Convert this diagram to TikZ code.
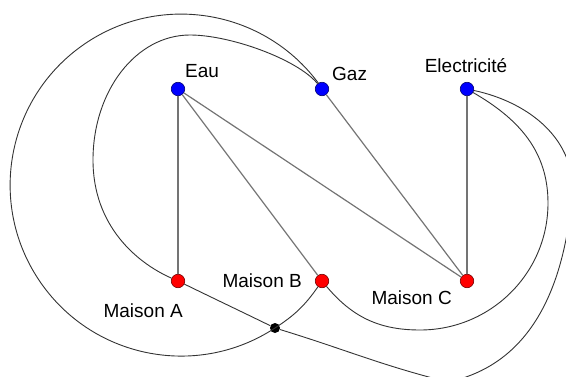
\documentclass[tikz,border=0pt]{standalone}
\usepackage{fontspec}
\setmainfont{Liberation Sans}
\usetikzlibrary{calc}
\definecolor{villebleu}{HTML}{0000FF}
\definecolor{maisonrouge}{HTML}{FF0000}
\definecolor{traitgris}{HTML}{747474}
\definecolor{courbegris}{HTML}{333333}

\begin{document}
\begin{tikzpicture}[x=1pt, y=1pt,
  ville/.style={circle, draw=blue!45!black, line width=0.6pt, fill=villebleu, minimum size=13.5pt, inner sep=0pt},
  maison/.style={circle, draw=red!45!black, line width=0.6pt, fill=maisonrouge, minimum size=13.5pt, inner sep=0pt},
  croisement/.style={circle, fill=black, minimum size=10pt, inner sep=0pt},
  etiq/.style={font=\fontsize{19}{22}\selectfont, inner sep=0pt},
  trait/.style={traitgris, line width=1.2pt},
  courbe/.style={courbegris, line width=0.9pt}
]
\useasboundingbox (0,0) rectangle (566,376);

\node[ville] (eau) at (178,287) {};
\node[ville] (gaz) at (322,287) {};
\node[ville] (elec) at (467,287) {};
\node[maison] (maisonA) at (178,95) {};
\node[maison] (maisonB) at (322,95) {};
\node[maison] (maisonC) at (467,95) {};
\node[croisement] (croix) at (275,48) {};

\node[etiq, anchor=base west] (tEau) at ($(eau)+(7,12)$) {Eau};
\node[etiq, anchor=base west] (tGaz) at ($(gaz)+(10,8)$) {Gaz};
\node[etiq, anchor=base] (tElec) at ($(elec)+(-1,17)$) {Electricité};
\node[etiq, anchor=base east] (tMaisonA) at ($(maisonA)+(5,-36)$) {Maison A};
\node[etiq, anchor=base east] (tMaisonB) at ($(maisonB)+(-20,-6)$) {Maison B};
\node[etiq, anchor=base east] (tMaisonC) at ($(maisonC)+(-15,-23)$) {Maison C};

\draw[trait] (eau) -- (maisonA);
\draw[trait] (eau) -- (maisonB);
\draw[trait] (eau) -- (maisonC);
\draw[trait] (gaz) -- (maisonC);
\draw[trait] (elec) -- (maisonC);

\draw[courbe] (gaz) .. controls (297,317) and (230,341) .. (190,341)
  .. controls (136,341) and (93,285) .. (93,216)
  .. controls (93,150) and (137,113) .. (maisonA);
\draw[courbe] (maisonB) to[out=235,in=33] (croix.center) arc[start angle=-56.7, end angle=-323.6, radius=171];
\draw[courbe] (maisonA) to[out=-26,in=154] (croix) to[out=-17,in=166] (448,-6) to[out=12,in=-95] (572,180) to[out=85,in=-12] (elec);
\draw[courbe] (maisonB) to[out=-50,in=180] (420,46) to[out=0,in=-90] (548,173) to[out=90,in=-30] (elec);
\end{tikzpicture}
\end{document}
